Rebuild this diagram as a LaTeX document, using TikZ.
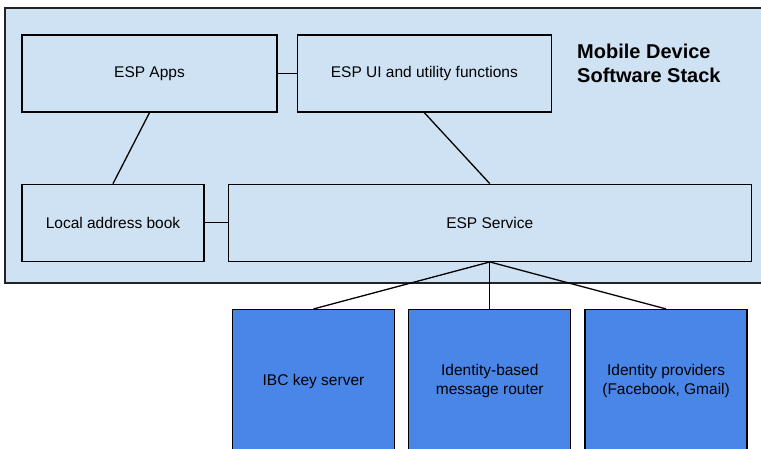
\documentclass[tikz,border=0pt]{standalone}
\usepackage{fontspec}
\setmainfont{Liberation Sans}
\usepackage{xcolor}
\definecolor{paleBlue}{HTML}{CFE2F3}
\definecolor{serverBlue}{HTML}{4A86E8}
\definecolor{frameGray}{HTML}{222222}
\usepackage{tikz}
\usetikzlibrary{positioning}
\tikzset{
    % Base style for all boxes
    box base/.style={
        rectangle,
        draw=black,
        line width=1.3pt,
        align=center,
        text=black,
        font=\fontsize{15.5}{18.5}\selectfont,
        inner sep=2pt,
        minimum height=77pt,
    },
    % Boxes inside the device stack - pale blue
    stack box/.style={
        box base,
        fill=paleBlue,
    },
    % Server side boxes - strong blue
    server box/.style={
        box base,
        fill=serverBlue,
        minimum width=162pt,
        minimum height=143pt,
    },
    % Big frame round the stack
    stack frame/.style={
        rectangle,
        draw=frameGray,
        line width=1.3pt,
        fill=paleBlue,
        inner sep=0pt,
    },
    % Title of the stack
    stack title/.style={
        font=\fontsize{20}{24}\selectfont\bfseries,
        align=left,
        inner sep=0pt,
        anchor=west,
    },
    % Plain connector
    link/.style={
        draw=black,
        line width=1.3pt,
    },
}
\begin{document}
\begin{tikzpicture}[x=1pt, y=-1pt]
    \useasboundingbox (0,0) rectangle (761,448);
    \node (stack) [stack frame, minimum width=761pt, minimum height=275pt] at (385.5,145.5) {};
    \node (title) [stack title] at (577,63.7) {Mobile Device\\Software Stack};

    \node (apps) [stack box, minimum width=255pt] at (149.5,73.5) {ESP Apps};
    \node (ui) [stack box, minimum width=254pt, right=19pt of apps] {ESP UI and utility functions};
    \node (book) [stack box, minimum width=182pt, below=71pt of apps.south west, anchor=north west] {Local address book};
    \node (service) [stack box, minimum width=523pt, right=23pt of book] {ESP Service};

    \node (router) [server box, below=47pt of service] {Identity-based\\message router};
    \node (ibc) [server box, left=13pt of router] {IBC key server};
    \node (idp) [server box, right=13pt of router] {Identity providers\\(Facebook, Gmail)};

    \draw [link] (apps) -- (ui);
    \draw [link] (book) -- (service);
    \draw [link] (apps.south) -- (book.north);
    \draw [link] (ui.south) -- (service.north);
    \draw [link] (service.south) -- (ibc.north);
    \draw [link] (service.south) -- (router.north);
    \draw [link] (service.south) -- (idp.north);
\end{tikzpicture}
\end{document}
